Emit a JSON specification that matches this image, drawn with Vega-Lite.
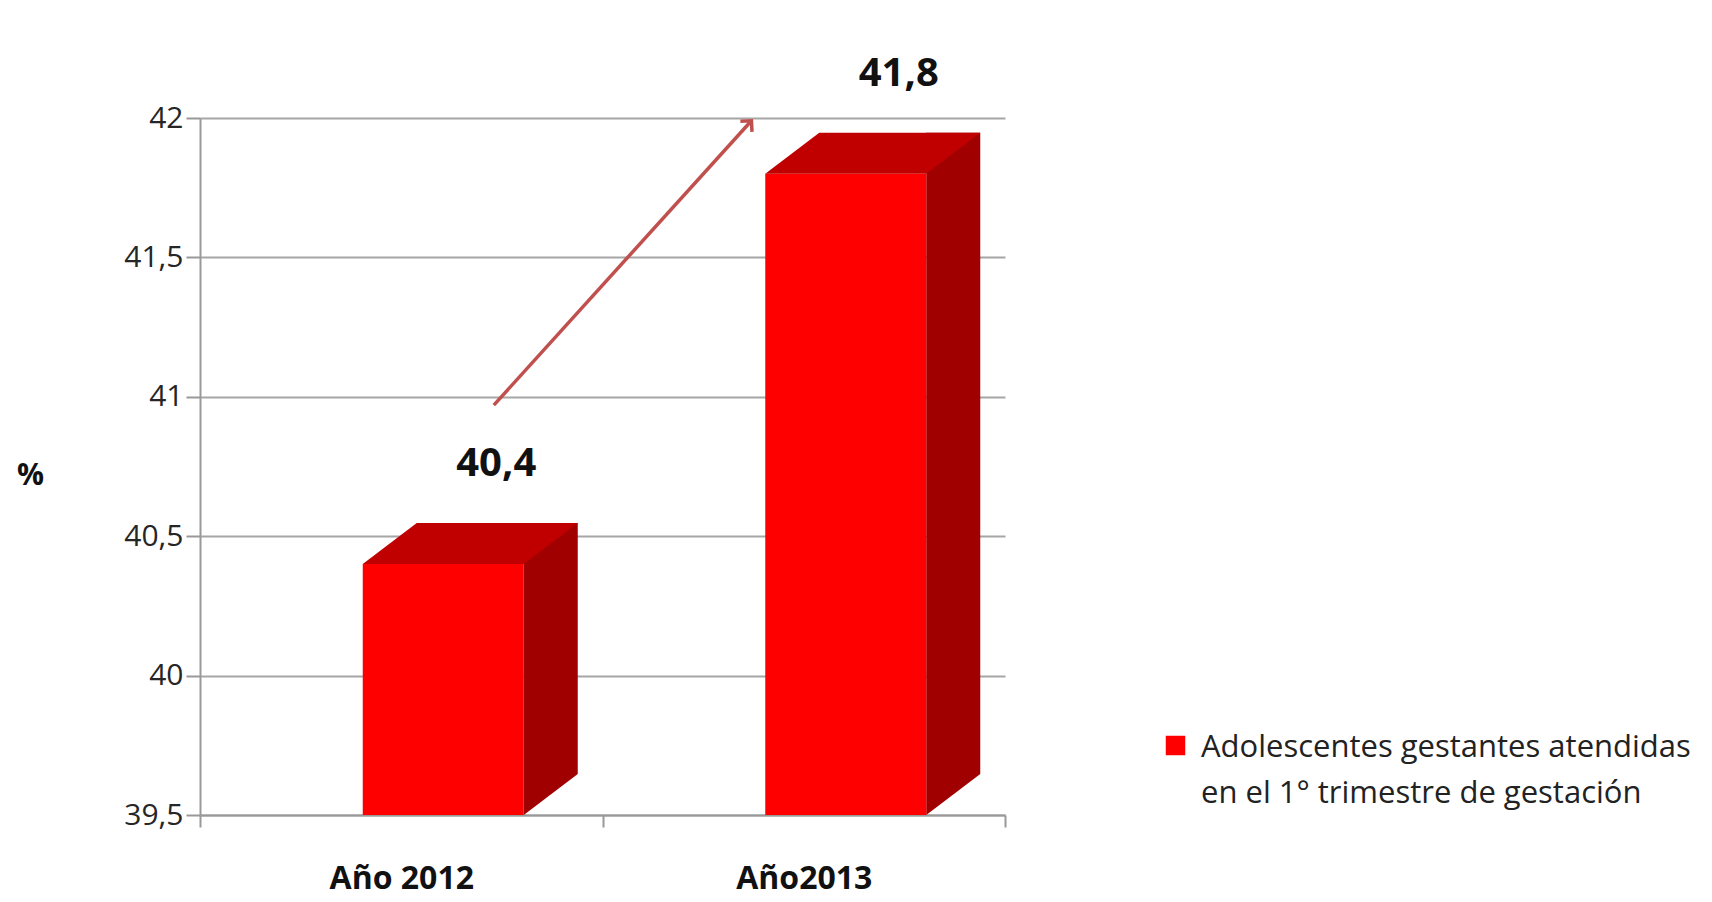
{
  "$schema": "https://vega.github.io/schema/vega-lite/v6.json",
  "autosize": "none",
  "width": 805,
  "height": 697,
  "padding": {"left": 200, "top": 118, "right": 707, "bottom": 87},
  "background": "white",
  "config": {
    "font": "Open Sans",
    "view": {"stroke": null}
  },
  "datasets": {
    "bars": [
      {"anio": "Año 2012", "valor": 40.4, "etiqueta": "40,4", "serie": "Adolescentes gestantes atendidas en el 1° trimestre de gestación"},
      {"anio": "Año2013", "valor": 41.8, "etiqueta": "41,8", "serie": "Adolescentes gestantes atendidas en el 1° trimestre de gestación"}
    ],
    "flecha": [
      {"x": 0.73, "y": 40.97, "x2": 1.37, "y2": 41.99}
    ]
  },
  "layer": [
    {
      "data": {"name": "bars"},
      "encoding": {
        "x": {
          "field": "anio", "type": "nominal", "sort": null,
          "scale": {"paddingInner": 0, "paddingOuter": 0},
          "axis": {
            "title": null, "labelAngle": 0, "labelFontSize": 32, "labelFontWeight": "bold",
            "labelColor": "#111", "labelPadding": 36, "tickBand": "extent", "tickSize": 12,
            "tickColor": "#999", "domainColor": "#999", "domainWidth": 2, "tickWidth": 2, "grid": false
          }
        },
        "y": {
          "field": "valor", "type": "quantitative",
          "scale": {"domain": [39.5, 42], "zero": false, "nice": false},
          "axis": {
            "title": "%", "titleAngle": 0, "titleFontSize": 30, "titleFontWeight": "bold", "titleColor": "#111",
            "titleX": -170, "titleY": 357, "titleAlign": "center", "titleBaseline": "middle",
            "values": [39.5, 40, 40.5, 41, 41.5, 42],
            "labelExpr": "replace(format(datum.value, '.1~f'), '.', ',')",
            "labelFontSize": 30, "labelColor": "#262626", "labelPadding": 3,
            "tickSize": 14, "tickColor": "#999", "tickWidth": 2, "domainColor": "#999", "domainWidth": 2,
            "grid": true, "gridColor": "#A6A6A6", "gridWidth": 2
          }
        }
      },
      "layer": [
        {
          "mark": {"type": "bar", "width": 54, "xOffset": 149.5, "yOffset": -41, "y2Offset": -41, "color": "#A00000"},
          "encoding": {"y2": {"datum": 39.5}}
        },
        {
          "mark": {"type": "point", "shape": "M 0.805 0 L 0.805 -0.41 L 1.345 -0.41 Z", "size": 40000, "filled": true, "strokeWidth": 0, "opacity": 1, "color": "#A00000", "xOffset": 42},
          "encoding": {"y": {"datum": 39.5}}
        },
        {
          "mark": {"type": "bar", "width": {"band": 0.4}, "xOffset": 42},
          "encoding": {
            "y2": {"datum": 39.5},
            "color": {
              "field": "serie", "type": "nominal",
              "scale": {"range": ["#FF0000"]},
              "legend": {
                "title": null, "orient": "none", "legendX": 960, "legendY": 612, "padding": 0,
                "symbolType": "square", "symbolSize": 380, "symbolStrokeWidth": 0, "symbolOpacity": 1,
                "labelFontSize": 31, "labelColor": "#222", "labelLimit": 700, "labelOffset": 10,
                "labelBaseline": "alphabetic",
                "labelExpr": "['Adolescentes gestantes atendidas', 'en el 1° trimestre de gestación']",
                "encode": {"labels": {"update": {"lineHeight": {"value": 46}, "dy": {"value": 11}}}}
              }
            }
          }
        },
        {
          "mark": {"type": "point", "shape": "M -0.805 0 L -0.265 -0.41 L 1.345 -0.41 L 0.805 0 Z", "size": 40000, "filled": true, "strokeWidth": 0, "opacity": 1, "color": "#C00000", "xOffset": 42}
        },
        {
          "mark": {"type": "text", "dx": 95, "dy": -100, "fontSize": 40, "fontWeight": "bold", "color": "#111", "baseline": "middle"},
          "encoding": {
            "text": {"field": "etiqueta"}
          }
        }
      ]
    },
    {
      "data": {"name": "flecha"},
      "mark": {"type": "rule", "color": "#C0504D", "strokeWidth": 3.5},
      "encoding": {
        "x": {"field": "x", "type": "quantitative", "scale": {"domain": [0, 2]}, "axis": null},
        "y": {"field": "y", "type": "quantitative"},
        "x2": {"field": "x2"},
        "y2": {"field": "y2"}
      }
    },
    {
      "data": {"name": "flecha"},
      "mark": {"type": "point", "shape": "M -0.7 0.7 L 0 0 L 0.7 0.7", "filled": false, "color": "#C0504D", "strokeWidth": 3.5, "size": 500, "angle": 42, "opacity": 1},
      "encoding": {
        "x": {"field": "x2", "type": "quantitative", "scale": {"domain": [0, 2]}, "axis": null},
        "y": {"field": "y2", "type": "quantitative"}
      }
    }
  ],
  "resolve": {"scale": {"x": "independent"}}
}
